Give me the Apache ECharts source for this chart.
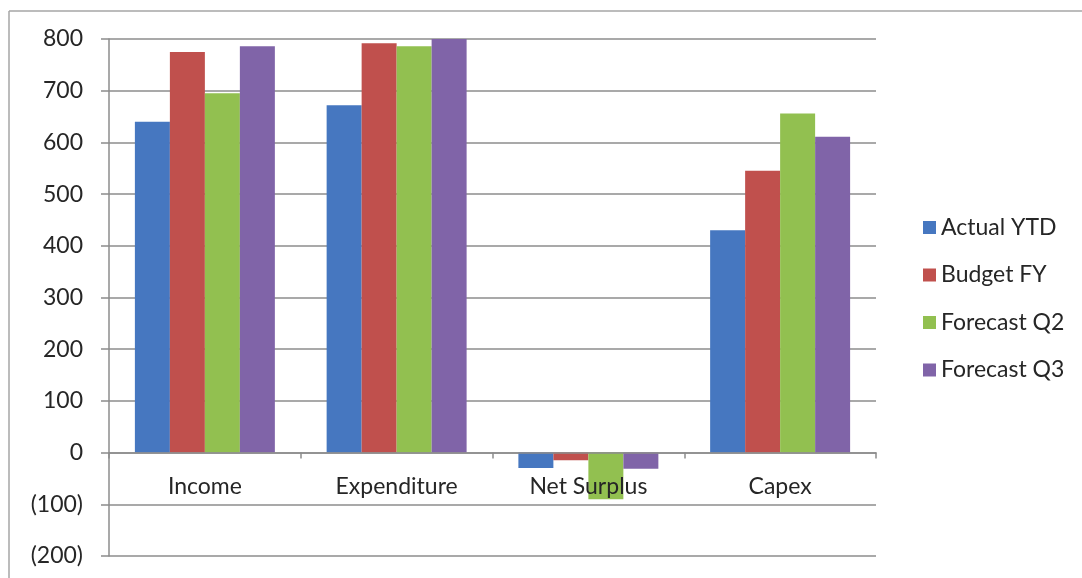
<!DOCTYPE html>
<html>
<head>
<meta charset="utf-8">
<script src="https://cdn.jsdelivr.net/npm/echarts@6/dist/echarts.min.js"></script>
<style>
  html, body { margin: 0; padding: 0; background: #fff; }
  #chart { width: 1082px; height: 578px; }
</style>
</head>
<body>
<div id="chart"></div>
<script>
// Financial summary: four measures across four series
const categories = ['Income', 'Expenditure', 'Net Surplus', 'Capex'];
const actualYTD   = [640, 672, -30, 430];
const budgetFY    = [775, 792, -15, 545];
const forecastQ2  = [695, 786, -90, 656];
const forecastQ3  = [786, 800, -31, 611];
const seriesNames = ['Actual YTD', 'Budget FY', 'Forecast Q2', 'Forecast Q3'];
const seriesColors = ['#4677c0', '#c0504d', '#92c050', '#8064a8'];
const yTicks = [-200, -100, 0, 100, 200, 300, 400, 500, 600, 700, 800];

const fontFamily = 'Lato, "Open Sans", sans-serif';
const fontSize = 23;
const textColor = '#262626';
const axisGrey = '#8c8c8c';

const fmt = v => v < 0 ? '(' + Math.abs(v) + ')' : String(v);

const chart = echarts.init(document.getElementById('chart'));
const values = [actualYTD, budgetFY, forecastQ2, forecastQ3];

chart.setOption({
  animation: false,
  backgroundColor: '#ffffff',
  graphic: [
    { type: 'line', shape: { x1: 9, y1: 11, x2: 1082, y2: 11 }, style: { stroke: '#a6a6a6', lineWidth: 1.5 } },
    { type: 'line', shape: { x1: 9, y1: 11, x2: 9, y2: 578 }, style: { stroke: '#a6a6a6', lineWidth: 1.5 } }
  ],
  legend: {
    orient: 'vertical',
    left: 918,
    top: 211,
    itemWidth: 13,
    itemHeight: 13,
    itemGap: 24.5,
    icon: 'rect',
    textStyle: { fontFamily, fontSize, color: textColor },
    data: seriesNames
  },
  grid: { left: 109, right: 206, top: 39, bottom: 22, containLabel: false, outerBoundsMode: 'none' },
  xAxis: {
    type: 'category',
    data: categories,
    position: 'bottom',
    z: 5,
    axisLine: { onZero: false, lineStyle: { color: axisGrey, width: 1.5 } },
    axisTick: { show: true, length: 6, lineStyle: { color: axisGrey, width: 1.5 } },
    axisLabel: { fontFamily, fontSize, color: textColor, margin: 22 }
  },
  yAxis: {
    type: 'value',
    min: yTicks[0],
    max: yTicks[yTicks.length - 1],
    interval: 100,
    axisLine: { show: true, lineStyle: { color: axisGrey, width: 1.5 } },
    axisTick: { show: true, inside: false, length: 8, lineStyle: { color: axisGrey, width: 1.5 } },
    axisLabel: { fontFamily, fontSize, color: textColor, margin: 26, formatter: fmt },
    splitLine: { show: true, lineStyle: { color: axisGrey, width: 1.5 } }
  },
  series: seriesNames.map((name, i) => ({
    name,
    type: 'bar',
    z: 2,
    data: values[i],
    barGap: '0%',
    barCategoryGap: '27%',
    itemStyle: { color: seriesColors[i] }
  }))
});

// Lift the category axis (line, ticks and labels) up to the zero value
const zeroY = chart.convertToPixel({ yAxisIndex: 0 }, 0);
const minY = chart.convertToPixel({ yAxisIndex: 0 }, yTicks[0]);
chart.setOption({ xAxis: { offset: -(minY - zeroY) } });
</script>
</body>
</html>
